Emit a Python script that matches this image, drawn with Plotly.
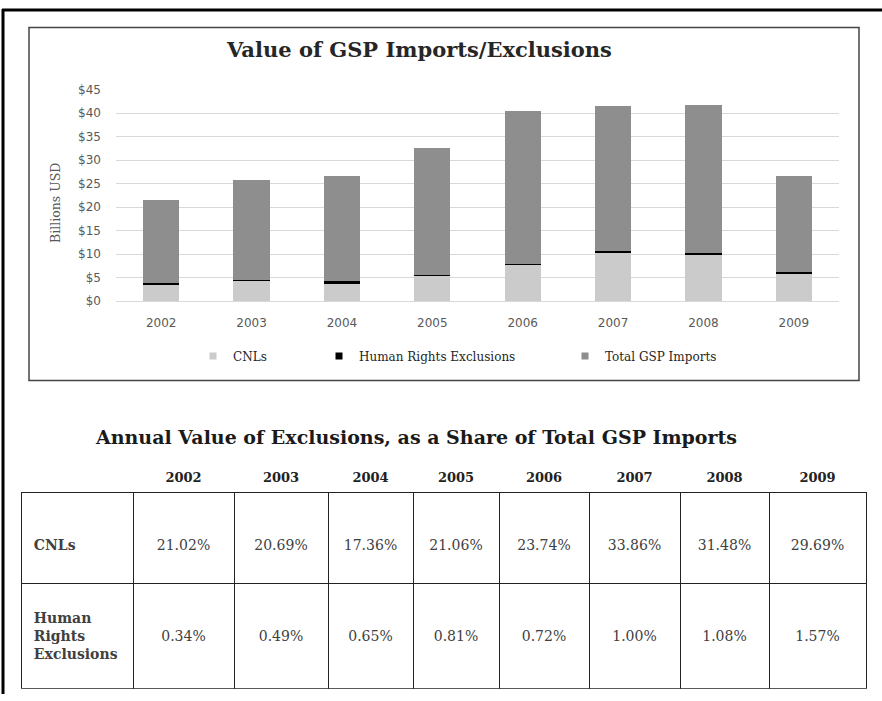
import plotly.graph_objects as go

years = ["2002", "2003", "2004", "2005", "2006", "2007", "2008", "2009"]
# Bar segments (billions USD)
cnls = [3.6, 4.4, 3.9, 5.6, 7.8, 10.4, 10.0, 5.9]
human_rights = [0.3, 0.03, 0.3, 0.03, 0.03, 0.3, 0.3, 0.3]
total_gsp = [17.5, 21.3, 22.4, 26.9, 32.7, 30.8, 31.5, 20.4]

y_ticks = [0, 5, 10, 15, 20, 25, 30, 35, 40, 45]
y_tick_labels = ["$0", "$5", "$10", "$15", "$20", "$25", "$30", "$35", "$40", "$45"]

# Table: share of total GSP imports (%)
cnl_share = [21.02, 20.69, 17.36, 21.06, 23.74, 33.86, 31.48, 29.69]
hr_share = [0.34, 0.49, 0.65, 0.81, 0.72, 1.00, 1.08, 1.57]
row_labels = ["CNLs", "Human<br>Rights<br>Exclusions"]

series_names = ["CNLs", "Human Rights Exclusions", "Total GSP Imports"]
series_colors = ["#cbcbcb", "#000000", "#8e8e8e"]

W, H = 882, 701
SERIF = "DejaVu Serif"
SANS = "DejaVu Sans"
NB = "\u00a0"


def px(x):
    return x / W


def py(y):
    return 1 - y / H


fig = go.Figure()
for vals, name, color in zip([cnls, human_rights, total_gsp], series_names, series_colors):
    fig.add_trace(go.Bar(x=years, y=vals, name=name, marker_color=color,
                         marker_line_width=0, showlegend=False, xaxis="x", yaxis="y",
                         hoverinfo="skip"))

# legend swatches (small squares like the original), one legend box per entry
legend_ids = ["legend", "legend2", "legend3"]
legend_x = [193, 319, 565]
for name, color, lid in zip(series_names, series_colors, legend_ids):
    fig.add_trace(go.Scatter(x=[None], y=[None], mode="markers", name=name,
                             marker=dict(symbol="square", size=7, color=color),
                             showlegend=True, legend=lid, xaxis="x", yaxis="y"))

header_vals = [""] + ["<b>%s</b>" % y for y in years]
label_lines = [[NB + part for part in lab.split("<br>")] for lab in row_labels]
col_first = [NB + "<br>" + NB + "<br><b>%s</b>" % "<br>".join(label_lines[0]),
             NB + "<br><b>%s</b><br>" % "<br>".join(label_lines[1]) + NB]
cell_cols = [col_first] + [[NB + "<br>" + NB + "<br>%.2f%%" % c,
                            NB + "<br>" + NB + "<br>%.2f%%" % h]
                           for c, h in zip(cnl_share, hr_share)]

fig.add_trace(go.Table(
    domain=dict(x=[px(21), px(866)], y=[py(696), py(464)]),
    columnwidth=[112, 101, 94, 85, 86, 90, 91, 89, 97],
    header=dict(values=header_vals, fill_color="rgba(0,0,0,0)",
                line=dict(color="rgba(0,0,0,0)", width=0),
                font=dict(family=SERIF, size=13, color="#222222"),
                align="center", height=22),
    cells=dict(values=cell_cols, fill_color="rgba(0,0,0,0)",
               line=dict(color="#222222", width=1),
               font=dict(family=SERIF, size=14, color="#404040"),
               align=["left"] + ["center"] * 8, height=91),
))

legend_common = dict(orientation="h", xanchor="left", yanchor="middle",
                     font=dict(family=SERIF, size=12, color="#262626"),
                     itemwidth=30, bgcolor="rgba(0,0,0,0)")

fig.update_layout(
    width=W, height=H,
    margin=dict(l=0, r=0, t=0, b=0),
    paper_bgcolor="white", plot_bgcolor="white",
    barmode="stack", bargap=0.6,
    showlegend=True,
    legend=dict(x=px(legend_x[0]), y=py(356), **legend_common),
    legend2=dict(x=px(legend_x[1]), y=py(356), **legend_common),
    legend3=dict(x=px(legend_x[2]), y=py(356), **legend_common),
    xaxis=dict(domain=[px(116), px(839)], anchor="y", showgrid=False,
               showline=False, zeroline=False, ticks="",
               tickfont=dict(family=SANS, size=12, color="#595959"),
               ticklabelstandoff=13),
    yaxis=dict(domain=[py(300), py(84.3)], anchor="x", range=[0, 45],
               tickvals=y_ticks, ticktext=y_tick_labels,
               showgrid=True, gridcolor="#d9d9d9", gridwidth=1,
               zeroline=True, zerolinecolor="#d9d9d9", zerolinewidth=1,
               showline=False, ticks="",
               tickfont=dict(family=SANS, size=12, color="#595959"),
               ticklabelstandoff=14),
    font=dict(family=SERIF),
)

annotations = [
    dict(text="<b>Value of GSP Imports/Exclusions</b>", x=px(419), y=py(43),
         xref="paper", yref="paper", showarrow=False, xanchor="center", yanchor="middle",
         font=dict(family=SERIF, size=21, color="#262626")),
    dict(text="Billions USD", x=px(55), y=py(200), textangle=-90,
         xref="paper", yref="paper", showarrow=False, xanchor="center", yanchor="middle",
         font=dict(family=SERIF, size=12.5, color="#595959")),
    dict(text="<b>Annual Value of Exclusions, as a Share of Total GSP Imports</b>",
         x=px(416), y=py(439), xref="paper", yref="paper", showarrow=False,
         xanchor="center", yanchor="middle",
         font=dict(family=SERIF, size=19, color="#1a1a1a")),
]
fig.update_layout(annotations=annotations)

shapes = [
    # chart frame
    dict(type="rect", xref="paper", yref="paper", x0=px(29), x1=px(859), y0=py(381), y1=py(21),
         line=dict(color="#444444", width=1.5), fillcolor="rgba(0,0,0,0)", layer="below"),
    # outer border (top and left)
    dict(type="line", xref="paper", yref="paper", x0=px(2), x1=1, y0=py(3), y1=py(3),
         line=dict(color="black", width=3)),
    dict(type="line", xref="paper", yref="paper", x0=px(3), x1=px(3), y0=0, y1=py(2),
         line=dict(color="black", width=3)),
]
fig.update_layout(shapes=shapes)

fig.write_html("out.html", config={"displayModeBar": False},
               post_script="document.body.style.margin='0';")
